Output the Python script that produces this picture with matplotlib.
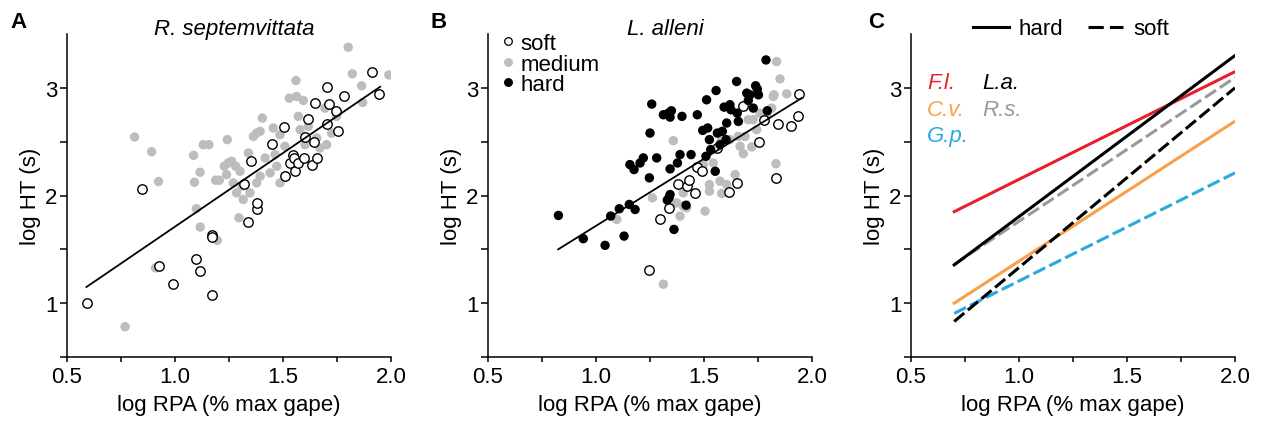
import matplotlib
matplotlib.use("Agg")
import matplotlib.pyplot as plt
from matplotlib.lines import Line2D
from matplotlib.ticker import FixedLocator

plt.rcParams['font.family'] = ['Liberation Sans', 'DejaVu Sans']

# ---- Panel A: R. septemvittata ----
a_soft_x = [0.591, 0.846, 0.924, 0.992, 1.097, 1.117, 1.171, 1.171, 1.173, 1.321,
            1.350, 1.336, 1.378, 1.381, 1.451, 1.503, 1.508, 1.532, 1.548, 1.552,
            1.557, 1.569, 1.597, 1.603, 1.636, 1.644, 1.656, 1.614, 1.650, 1.704,
            1.713, 1.702, 1.744, 1.753, 1.781, 1.912, 1.946]
a_soft_y = [1.000, 2.062, 1.343, 1.176, 1.414, 1.302, 1.080, 1.633, 1.617, 2.111,
            2.318, 1.750, 1.877, 1.926, 2.481, 2.639, 2.179, 2.302, 2.380, 2.349,
            2.228, 2.302, 2.346, 2.543, 2.287, 2.497, 2.352, 2.713, 2.858, 3.012,
            2.849, 2.660, 2.781, 2.596, 2.920, 3.148, 2.944]
a_med_x = [0.813, 0.892, 0.924, 0.910, 0.769, 1.086, 1.090, 1.116, 1.099, 1.117,
           1.196, 1.131, 1.157, 1.242, 1.188, 1.205, 1.228, 1.247, 1.239, 1.262,
           1.270, 1.281, 1.301, 1.309, 1.285, 1.316, 1.296, 1.347, 1.340, 1.363,
           1.378, 1.394, 1.404, 1.378, 1.394, 1.417, 1.440, 1.455, 1.463, 1.471,
           1.486, 1.486, 1.509, 1.529, 1.560, 1.563, 1.594, 1.571, 1.579, 1.602,
           1.617, 1.656, 1.671, 1.702, 1.694, 1.725, 1.748, 1.802, 1.821, 1.864,
           1.869, 1.990]
a_med_y = [2.543, 2.407, 2.130, 1.327, 0.781, 2.373, 2.123, 2.216, 1.877, 1.707,
           1.583, 2.472, 2.472, 2.519, 2.142, 2.142, 2.272, 2.302, 2.194, 2.318,
           2.117, 2.272, 2.225, 2.086, 2.025, 1.963, 1.793, 2.025, 2.395, 2.549,
           2.580, 2.596, 2.719, 2.117, 2.179, 2.349, 2.210, 2.627, 2.380, 2.272,
           2.565, 2.117, 2.457, 2.904, 3.068, 2.920, 2.883, 2.735, 2.611, 2.472,
           2.642, 2.534, 2.441, 2.472, 2.812, 2.580, 2.735, 3.377, 3.130, 3.019,
           2.864, 3.120]
a_fit_x = [0.59, 1.95]
a_fit_y = [1.15, 3.01]

# ---- Panel B: L. alleni ----
b_hard_x = [0.826, 0.941, 1.042, 1.068, 1.108, 1.130, 1.154, 1.181, 1.157, 1.176,
            1.204, 1.219, 1.247, 1.250, 1.258, 1.281, 1.312, 1.335, 1.349, 1.343,
            1.343, 1.330, 1.343, 1.338, 1.361, 1.377, 1.389, 1.398, 1.417, 1.440,
            1.469, 1.494, 1.509, 1.512, 1.517, 1.525, 1.531, 1.552, 1.556, 1.562,
            1.574, 1.585, 1.602, 1.605, 1.593, 1.620, 1.625, 1.651, 1.654, 1.659,
            1.698, 1.705, 1.713, 1.728, 1.739, 1.747, 1.752, 1.787, 1.793]
b_hard_y = [1.815, 1.599, 1.537, 1.809, 1.877, 1.623, 1.917, 1.870, 2.287, 2.241,
            2.302, 2.349, 2.164, 2.580, 2.849, 2.349, 2.750, 2.765, 2.787, 2.728,
            2.247, 1.957, 2.009, 1.978, 1.685, 2.302, 2.380, 2.735, 1.910, 2.380,
            2.750, 2.605, 2.364, 2.889, 2.627, 2.519, 2.426, 2.225, 2.975, 2.580,
            2.472, 2.596, 2.519, 2.673, 2.821, 2.843, 2.796, 3.059, 2.765, 2.688,
            2.951, 2.883, 2.935, 2.812, 3.019, 2.988, 2.935, 3.259, 2.787]
b_med_x = [1.096, 1.261, 1.358, 1.373, 1.389, 1.404, 1.420, 1.312, 1.497, 1.505,
           1.525, 1.525, 1.543, 1.574, 1.582, 1.605, 1.644, 1.659, 1.667, 1.682,
           1.690, 1.705, 1.721, 1.728, 1.744, 1.759, 1.790, 1.813, 1.821, 1.824,
           1.833, 1.836, 1.852, 1.883, 1.404, 1.582, 1.620]
b_med_y = [1.778, 1.978, 2.509, 1.932, 1.809, 2.025, 1.886, 1.176, 2.287, 1.855,
           2.102, 2.040, 2.302, 2.133, 2.019, 2.102, 2.194, 2.549, 2.457, 2.389,
           2.549, 2.704, 2.451, 2.704, 2.611, 2.765, 2.750, 2.812, 2.920, 2.935,
           2.296, 3.244, 3.083, 2.944, 1.901, 2.534, 2.519]
b_soft_x = [1.245, 1.296, 1.340, 1.381, 1.423, 1.431, 1.460, 1.466, 1.492, 1.559,
            1.614, 1.654, 1.682, 1.755, 1.778, 1.833, 1.844, 1.903, 1.937, 1.940]
b_soft_y = [1.309, 1.784, 1.880, 2.111, 2.086, 2.142, 2.019, 2.262, 2.225, 2.441,
            2.034, 2.117, 2.833, 2.494, 2.698, 2.164, 2.664, 2.648, 2.741, 2.944]
b_fit_x = [0.825, 1.952]
b_fit_y = [1.50, 2.905]

# ---- Panel C: fitted lines per species ----
c_x = [0.7, 2.0]
c_fl_hard = [1.85, 3.15]
c_la_hard = [1.355, 3.30]
c_cv_hard = [1.00, 2.69]
c_rs_soft = [1.36, 3.095]
c_la_soft = [0.83, 3.00]
c_gp_soft = [0.905, 2.21]

red = '#e8202a'
orange = '#f7a24b'
blue = '#27aae1'
gray = '#999999'
med = '#bdbdbd'
fs = 16

fig = plt.figure(figsize=(12.63, 4.31), dpi=100)
W, H = 1263, 431
axes = []
for left in [67, 488, 911]:
    ax = fig.add_axes([left / W, (H - 358) / H, 324 / W, 323 / H])
    axes.append(ax)

for ax in axes:
    ax.set_xlim(0.5, 2.0)
    ax.set_ylim(0.5, 3.5)
    for s in ['top', 'right']:
        ax.spines[s].set_visible(False)
    for s in ['left', 'bottom']:
        ax.spines[s].set_linewidth(1.1)
    ax.xaxis.set_major_locator(FixedLocator([0.5, 1.0, 1.5, 2.0]))
    ax.xaxis.set_minor_locator(FixedLocator([0.75, 1.25, 1.75]))
    ax.set_xticklabels(['0.5', '1.0', '1.5', '2.0'])
    ax.yaxis.set_major_locator(FixedLocator([1, 2, 3]))
    ax.yaxis.set_minor_locator(FixedLocator([0.5, 1.5, 2.5]))
    ax.tick_params(axis='x', which='both', length=3.5, width=1.1, labelsize=fs, pad=3)
    ax.tick_params(axis='y', which='both', length=4.8, width=1.1, labelsize=fs, pad=2)
    ax.set_xlabel('log RPA (% max gape)', fontsize=fs)
    ax.set_ylabel('log HT (s)', fontsize=fs)
    ax.xaxis.set_label_coords(0.5, -0.115)
    ax.yaxis.set_label_coords(-0.08, 0.5)

msize = 46
axA, axB, axC = axes
# A
axA.scatter(a_med_x, a_med_y, s=msize, color=med, edgecolors='none', zorder=2)
axA.scatter(a_soft_x, a_soft_y, s=msize, facecolors='white', edgecolors='black',
            linewidths=1.0, zorder=3)
axA.plot(a_fit_x, a_fit_y, color='black', lw=1.3, zorder=4)
axA.text(0.515, 1.0, 'R. septemvittata', transform=axA.transAxes, ha='center',
         va='baseline', fontsize=fs, style='italic')

# B
axB.scatter(b_med_x, b_med_y, s=msize, color=med, edgecolors='none', zorder=2)
axB.scatter(b_soft_x, b_soft_y, s=msize, facecolors='white', edgecolors='black',
            linewidths=1.0, zorder=3)
axB.scatter(b_hard_x, b_hard_y, s=msize, color='black', edgecolors='none', zorder=3)
axB.plot(b_fit_x, b_fit_y, color='black', lw=1.3, zorder=4)
axB.text(0.546, 1.0, 'L. alleni', transform=axB.transAxes, ha='center',
         va='baseline', fontsize=fs, style='italic')
# legend for B, drawn by hand to get the tight row spacing
leg_rows = [('soft', 'white', 'black', 0.978),
            ('medium', med, med, 0.913),
            ('hard', 'black', 'black', 0.851)]
for lab, fc, ec, ty in leg_rows:
    axB.plot([0.062], [ty], transform=axB.transAxes, ls='none', marker='o', ms=5.5,
             mfc=fc, mec=ec, mew=0.9, clip_on=False)
    axB.text(0.1, ty, lab, transform=axB.transAxes, fontsize=fs, ha='left',
             va='center_baseline')

# C
lw = 2.2
dash = (4.3, 1.5)
axC.plot(c_x, c_fl_hard, color=red, lw=lw)
axC.plot(c_x, c_cv_hard, color=orange, lw=lw)
axC.plot(c_x, c_gp_soft, color=blue, lw=lw, dashes=dash)
axC.plot(c_x, c_rs_soft, color=gray, lw=lw, dashes=dash)
axC.plot(c_x, c_la_soft, color='black', lw=lw, dashes=dash)
axC.plot(c_x, c_la_hard, color='black', lw=lw)
lh = [Line2D([], [], color='black', lw=lw),
      Line2D([], [], color='black', lw=lw, dashes=(5.0, 2.0))]
axC.legend(lh, ['hard', 'soft'], loc='center', bbox_to_anchor=(0.494, 1.016),
           ncol=2, frameon=False, fontsize=fs, handlelength=1.6,
           columnspacing=1.1, handletextpad=0.45, borderaxespad=0.0,
           borderpad=0.0)
sp = [('F.l.', red, 0.049, 0.833), ('L.a.', 'black', 0.219, 0.833),
      ('C.v.', orange, 0.049, 0.750), ('R.s.', gray, 0.219, 0.750),
      ('G.p.', blue, 0.049, 0.669)]
for name, col, tx, ty in sp:
    axC.text(tx, ty, name, transform=axC.transAxes, color=col, fontsize=fs,
             style='italic', ha='left', va='baseline')

for lab, xp in [('A', 10), ('B', 431), ('C', 868)]:
    fig.text(xp / W, 1 - 12 / H, lab, fontsize=16, fontweight='bold',
             ha='left', va='top')

fig.savefig('out.png', dpi=100)
